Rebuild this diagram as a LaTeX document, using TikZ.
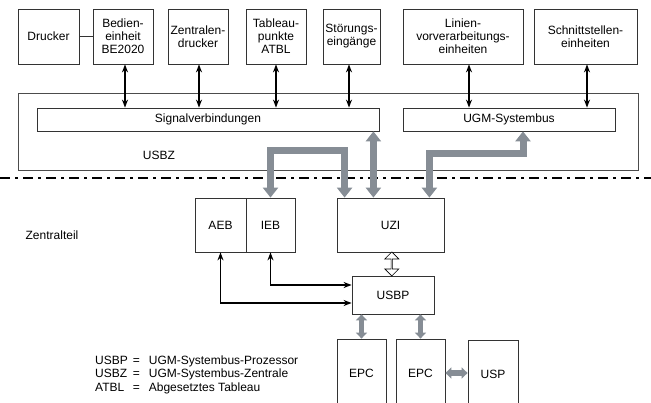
\documentclass[tikz,border=0pt]{standalone}
\usepackage{fontspec}
\setmainfont{Liberation Sans}
\usetikzlibrary{arrows.meta, shapes.arrows, calc, positioning}
\definecolor{busGrey}{RGB}{134,141,149}
\tikzset{
    unitBox/.style={rectangle, draw=black!80, line width=0.8pt, fill=white, align=center, inner sep=1pt, font=\fontsize{12}{13}\selectfont},
    topBox/.style={unitBox, minimum height=55pt},
    lowBox/.style={unitBox, minimum height=54pt},
    frameBox/.style={rectangle, draw=black!70, line width=0.8pt},
    plainText/.style={font=\fontsize{12}{13.5}\selectfont},
    sigArrow/.style={<->, >={Stealth[length=8pt, width=6pt]}, line width=1.4pt},
    busArrow/.style={<->, >={Triangle[length=10pt, width=15pt]}, line width=7pt, draw=busGrey},
    busShort/.style={<->, >={Triangle[length=6pt, width=11pt]}, line width=5.5pt, draw=busGrey},
    hollowLink/.style={double arrow, draw, fill=white, line width=0.7pt, rotate=90, minimum height=24pt, minimum width=14pt, double arrow head extend=3.5pt, inner sep=0pt},
    zoneLine/.style={line width=2.8pt, dash pattern=on 10pt off 5pt on 3pt off 5pt},
}
\newcommand{\sigLink}[3][0]{
    \coordinate (tap) at ($(#2.south)+(#1,0)$);
    \draw[sigArrow] (tap) -- (tap |- #3.north);
}
\newcommand{\busLink}[2]{
    \draw[busShort] (#2.north |- #1.south) -- (#2.north);
}
\begin{document}
\begin{tikzpicture}[x=1pt, y=-1pt]
        \useasboundingbox (0,0) rectangle (651,403);
        \clip (0,0) rectangle (651,403);

        % USBZ
        \node[frameBox, minimum width=620pt, minimum height=77pt] (usbz) at (328,131.5) {};
        \node[plainText] (usbzLabel) at (159,155) {USBZ};
        \node[unitBox, minimum width=342pt, minimum height=23pt] (signal) at (208,119.5) {Signalverbindungen};
        \node[unitBox, minimum width=212pt, minimum height=23pt] (ugmbus) at (509,119.5) {UGM-Systembus};

        % peripherals
        \node[topBox, minimum width=61pt] (drucker) at (48.5,36.5) {Drucker};
        \node[topBox, minimum width=60pt] (bedien) at (123,36.5) {Bedien-\\einheit\\BE2020};
        \node[topBox, minimum width=60pt] (zdrucker) at (198,36.5) {Zentralen-\\drucker};
        \node[topBox, minimum width=60pt] (tableau) at (276,36.5) {Tableau-\\punkte\\ATBL};
        \node[topBox, minimum width=57pt] (stoerung) at (351.5,36.5) {Störungs-\\eingänge};
        \node[topBox, minimum width=120pt] (linien) at (463,36.5) {Linien-\\vorverarbeitungs-\\einheiten};
        \node[topBox, minimum width=103pt] (schnitt) at (585.5,36.5) {Schnittstellen-\\einheiten};

        \draw[line width=0.8pt, black!80] (drucker.east) -- (bedien.west);
        \sigLink[2]{bedien}{signal}
        \sigLink[1]{zdrucker}{signal}
        \sigLink{tableau}{signal}
        \sigLink[-2.5]{stoerung}{signal}
        \sigLink[6]{linien}{ugmbus}
        \sigLink[1.5]{schnitt}{ugmbus}

        % Zentralteil
        \coordinate (zoneL) at (0,178);
        \coordinate (zoneR) at (651,178);
        \draw[zoneLine] (zoneL) -- (zoneR);
        \node[plainText] (zentral) at (52,235) {Zentralteil};

        \node[lowBox, minimum width=51pt] (aeb) at (220.5,225) {AEB};
        \node[lowBox, minimum width=49pt] (ieb) at (270.5,225) {IEB};
        \node[lowBox, minimum width=107pt] (uzi) at (390.5,225) {UZI};
        \node[unitBox, minimum width=82pt, minimum height=38pt] (usbp) at (393,295) {USBP};
        \node[unitBox, minimum width=49pt, minimum height=68pt] (epcA) at (361.5,373) {EPC};
        \node[unitBox, minimum width=49pt, minimum height=68pt] (epcB) at (420.5,373) {EPC};
        \node[unitBox, minimum width=50pt, minimum height=68pt] (usp) at (493,374) {USP};

        \draw[busArrow] (ieb.north) -- ++(0,-47) -| ($(uzi.north west)+(8,0)$);
        \coordinate (sigTap) at ($(signal.south east)+(-6,0)$);
        \draw[busArrow] (sigTap) -- (sigTap |- uzi.north);
        \draw[busArrow] ($(ugmbus.south)+(14,0)$) -- ++(0,22) -| ($(uzi.north east)+(-15,0)$);

        \node[hollowLink] (uziLink) at ($(uzi.south)!0.5!(usbp.north)$) {};
        \draw[sigArrow] (aeb.south) |- ($(usbp.west)+(0,8)$);
        \draw[sigArrow] (ieb.south) |- ($(usbp.west)+(0,-10)$);

        \busLink{usbp}{epcA}
        \busLink{usbp}{epcB}
        \draw[busShort] (epcB.east) -- (epcB.east -| usp.west);

        % legend
        \node[plainText, anchor=north west, inner sep=0pt] (legend) at (95,354.5) {%
            \begin{tabular}{@{}l@{\hspace{5pt}=\hspace{9pt}}l@{}}
                USBP & UGM-Systembus-Prozessor\\
                USBZ & UGM-Systembus-Zentrale\\
                ATBL & Abgesetztes Tableau
            \end{tabular}};
    \end{tikzpicture}
\end{document}
